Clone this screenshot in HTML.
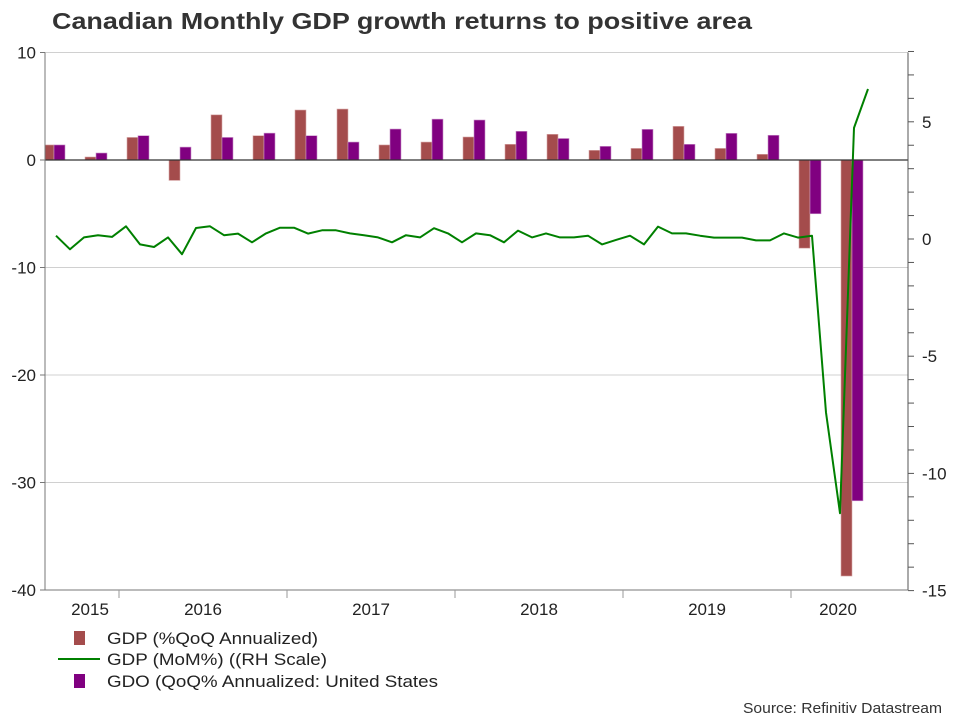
<!DOCTYPE html>
<html><head><meta charset="utf-8"><style>
body{margin:0;background:#fff;font-family:"Liberation Sans",Arial,sans-serif}
svg text{font-family:"Liberation Sans",Arial,sans-serif}
</style></head><body>
<svg id="c" width="960" height="720" xmlns="http://www.w3.org/2000/svg">
<defs><clipPath id="pc"><rect x="45" y="40" width="863" height="560"/></clipPath></defs>
<text x="52" y="29" font-size="23" font-weight="bold" fill="#333" textLength="700" lengthAdjust="spacingAndGlyphs">Canadian Monthly GDP growth returns to positive area</text>
<g id="grid"></g><g id="bars" clip-path="url(#pc)"></g><g id="line"></g><g id="axes"></g>
<g>
<rect x="74" y="631" width="11" height="14" fill="#a44c4c"/>
<text x="107" y="644" font-size="17" fill="#222" textLength="211" lengthAdjust="spacingAndGlyphs">GDP (%QoQ Annualized)</text>
<line x1="58" y1="659" x2="100" y2="659" stroke="#008000" stroke-width="2"/>
<text x="107" y="665" font-size="17" fill="#222" textLength="220" lengthAdjust="spacingAndGlyphs">GDP (MoM%) ((RH Scale)</text>
<rect x="74" y="674" width="11" height="14" fill="#800080"/>
<text x="107" y="687" font-size="17" fill="#222" textLength="331" lengthAdjust="spacingAndGlyphs">GDO (QoQ% Annualized: United States</text>
</g>
<text x="743" y="713" font-size="15" fill="#333" textLength="199" lengthAdjust="spacingAndGlyphs">Source: Refinitiv Datastream</text>
</svg>
<script>
const years=["2015","2016","2017","2018","2019","2020"];
const leftTicks=[10,0,-10,-20,-30,-40];
const rightTicks=[5,0,-5,-10,-15];
const gdpQoQ=[1.4,0.28,2.1,-1.9,4.2,2.26,4.65,4.74,1.4,1.67,2.14,1.46,2.39,0.9,1.08,3.13,1.08,0.53,-8.2,-38.7];
const gdoUS=[1.4,0.65,2.26,1.2,2.1,2.5,2.26,1.67,2.88,3.8,3.72,2.67,2.0,1.27,2.85,1.46,2.48,2.3,-5.0,-31.7];
const gdpMoM=[0.14,-0.44,0.07,0.16,0.09,0.54,-0.23,-0.34,0.07,-0.65,0.47,0.54,0.16,0.23,-0.14,0.24,0.48,0.48,0.23,0.37,0.37,0.24,0.16,0.07,-0.14,0.16,0.07,0.46,0.24,-0.14,0.24,0.16,-0.14,0.36,0.07,0.24,0.07,0.07,0.14,-0.23,-0.04,0.14,-0.23,0.53,0.24,0.24,0.14,0.06,0.06,0.06,-0.06,-0.06,0.24,0.06,0.14,-7.4,-11.7,4.74,6.4];
const NS="http://www.w3.org/2000/svg";
const X0=45,X1=908,Y0=52.5,Y1=590;
const yL=v=>160+(0-v)*(Y1-160)/40;
const yR=v=>239-v*23.44;
const yearStart=i=>-49+i*168;
const monthX=m=>yearStart(0)+(m+0.5)*14;
const quarterX=q=>yearStart(0)+(q+0.5)*42-2;
function mk(p,t,a){const e=document.createElementNS(NS,t);for(const k in a)e.setAttribute(k,a[k]);document.getElementById(p).appendChild(e);return e;}
leftTicks.forEach(v=>{if(v!==0&&v!==-40){const g=mk('grid','line',{x1:X0,x2:X1,y1:yL(v),y2:yL(v),stroke:'#d0d0d0'});

}});
gdpQoQ.forEach((v,i)=>{const c=quarterX(i+2);const r=mk('bars','rect',{x:c-11,width:11,y:Math.min(yL(v),yL(0)),height:Math.abs(yL(v)-yL(0)),fill:'#a44c4c',stroke:'#d8a8a8','stroke-width':0.6});

});
gdoUS.forEach((v,i)=>{const c=quarterX(i+2);const r=mk('bars','rect',{x:c,width:11,y:Math.min(yL(v),yL(0)),height:Math.abs(yL(v)-yL(0)),fill:'#800080',stroke:'#c890c8','stroke-width':0.6});

});
const pts=gdpMoM.map((v,i)=>monthX(i+7).toFixed(1)+','+yR(v).toFixed(1)).join(' ');
const pl=mk('line','polyline',{points:pts,fill:'none',stroke:'#008000','stroke-width':2,'stroke-linejoin':'round'});


const z=mk('axes','line',{x1:X0,x2:X1,y1:yL(0),y2:yL(0),stroke:'#333','stroke-width':1.2});


const la=mk('axes','line',{x1:X0,x2:X0,y1:Y0,y2:Y1,stroke:'#777'});


const ra=mk('axes','line',{x1:X1,x2:X1,y1:Y0,y2:Y1,stroke:'#555'});


const ba=mk('axes','line',{x1:X0,x2:X1,y1:Y1,y2:Y1,stroke:'#777'});


leftTicks.forEach(v=>{mk('axes','line',{x1:X0-5,x2:X0,y1:yL(v),y2:yL(v),stroke:'#777'});
const t=mk('axes','text',{x:X0-9,y:yL(v)+6,'font-size':17,'text-anchor':'end',fill:'#222'});t.textContent=v;

});
for(let v=-15;v<=8;v++){mk('axes','line',{x1:X1,x2:X1+6,y1:yR(v),y2:yR(v),stroke:'#555'});}
rightTicks.forEach(v=>{const t=mk('axes','text',{x:X1+14,y:yR(v)+6,'font-size':17,fill:'#222'});t.textContent=v;

});
years.forEach((y,i)=>{if(i>0)mk('axes','line',{x1:yearStart(i),x2:yearStart(i),y1:Y1,y2:Y1+8,stroke:'#999'});
const a=Math.max(yearStart(i),X0),b=Math.min(yearStart(i+1),X1);
const cx=i==0?90:(i==5?838:(a+b)/2);
const t=mk('axes','text',{x:cx,y:615,'font-size':17,'text-anchor':'middle',fill:'#222'});t.textContent=y;

});
</script>
</body></html>
